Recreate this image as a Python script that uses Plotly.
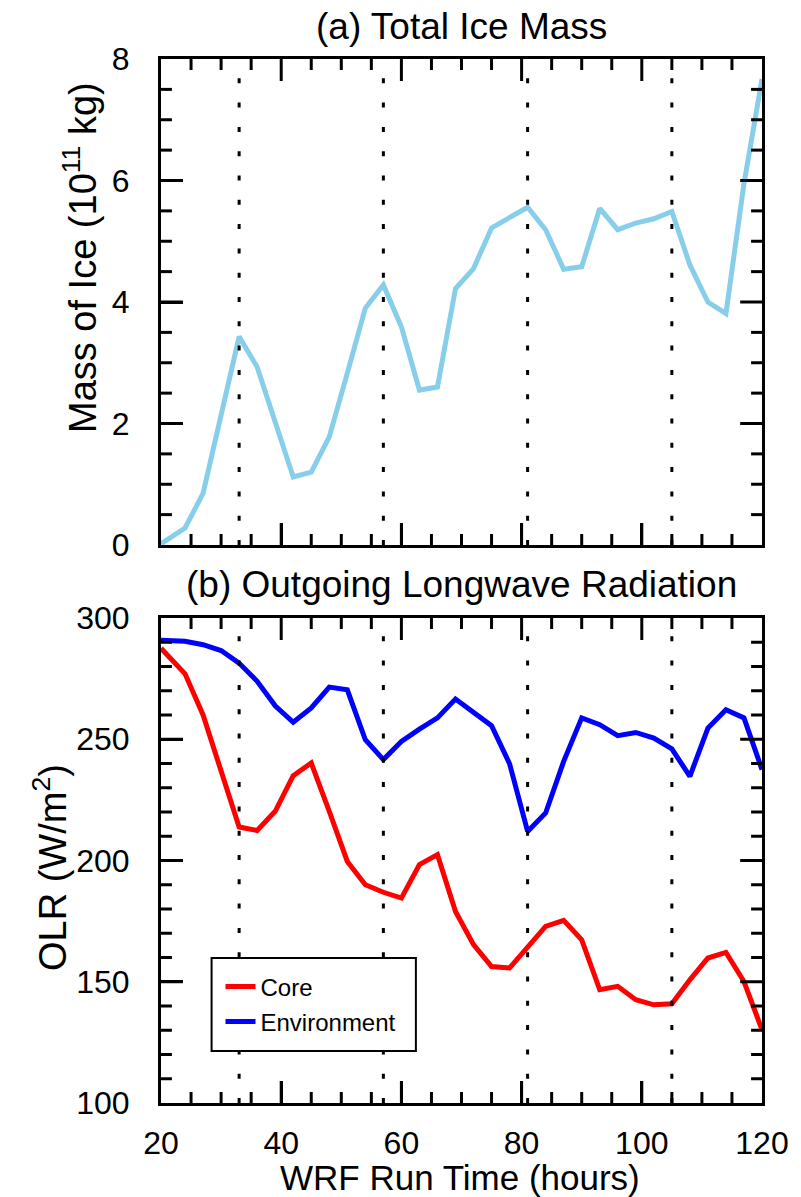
import plotly.graph_objects as go

# Model output times (hours since WRF start)
hours = [20, 24, 27, 30, 33, 36, 39, 42, 45, 48, 51, 54, 57, 60, 63, 66, 69,
         72, 75, 78, 81, 84, 87, 90, 93, 96, 99, 102, 105, 108, 111, 114, 117, 120]

# (a) total ice mass, 10^11 kg
ice_mass = [0.02, 0.28, 0.85, 2.1, 3.43, 2.93, 2.0, 1.12, 1.2, 1.78, 2.83, 3.9, 4.28,
            3.59, 2.55, 2.6, 4.22, 4.55, 5.22, 5.38, 5.56, 5.19, 4.54, 4.58, 5.54,
            5.19, 5.3, 5.37, 5.49, 4.61, 4.0, 3.81, 5.95, 7.67]

# (b) outgoing longwave radiation, W/m^2
olr_core = [287.5, 277, 260, 237, 213.8, 212.4, 220.3, 235, 240.2, 220.3, 199.6, 190,
            186.9, 184.5, 198.3, 202.4, 179, 165.3, 156.3, 155.7, 164.6, 172.8, 175.3,
            167.3, 146.7, 148.1, 142.6, 140.5, 140.9, 150.8, 159.8, 162.1, 150.1, 130.2]
olr_env = [290.8, 290.4, 289, 286.6, 281.4, 273.9, 263.8, 257, 262.9, 271.5, 270.4,
           249.8, 241.6, 249.1, 254.2, 258.8, 266.6, 260.8, 255.6, 239.9, 212, 219.6,
           240.9, 258.8, 256, 251.5, 252.8, 250.5, 246, 234.7, 254.6, 262.2, 258.8, 237.5]

# reference times marked with dotted lines
marker_hours = [33, 57, 81, 105]

# axis ranges
X_RANGE = (20, 120)
ICE_RANGE = (0, 8)
OLR_RANGE = (100, 300)

# tick positions (major, minor) for each axis
x_major = [40, 60, 80, 100]
x_minor = [v for v in range(25, 120, 5) if v % 20 != 0]
ice_major = [2, 4, 6]
ice_minor = [v / 2 for v in range(1, 16) if v % 4 != 0]
olr_major = [150, 200, 250]
olr_minor = [v for v in range(110, 300, 10) if v % 50 != 0]

FONT = "Liberation Sans, Arial, sans-serif"
W, H = 801, 1197
ML, MR, MT, MB = 161, 34, 59, 94
plot_h = H - MT - MB
plot_w = W - ML - MR
CLEAR = "rgba(0,0,0,0)"
MAJOR_LEN, MINOR_LEN = 22, 11
TOP_PANEL_PX = 545 - 59
BOTTOM_PANEL_PX = 1103 - 618


def py(px):
    """Convert a pixel row to paper y."""
    return (H - MB - px) / plot_h


def px_x(px):
    return (px - ML) / plot_w


fig = go.Figure()

fig.add_trace(go.Scatter(x=hours, y=ice_mass, mode="lines",
                         line=dict(color="#87CEEB", width=5),
                         xaxis="x", yaxis="y", showlegend=False))
fig.add_trace(go.Scatter(x=hours, y=olr_core, mode="lines", name="Core",
                         line=dict(color="#FF0000", width=5),
                         xaxis="x2", yaxis="y2", legend="legend"))
fig.add_trace(go.Scatter(x=hours, y=olr_env, mode="lines", name="Environment",
                         line=dict(color="#0000FF", width=5),
                         xaxis="x2", yaxis="y2", legend="legend2"))

shapes = []
TICK_LINE = dict(color="black", width=3)


def frame_ticks(xref, yref, yr, panel_px, y_major, y_minor):
    """Inward tick marks on all four frame edges of one panel, in data units."""
    x_per_px = (X_RANGE[1] - X_RANGE[0]) / plot_w
    y_per_px = (yr[1] - yr[0]) / panel_px
    for vals, ln in ((x_major, MAJOR_LEN), (x_minor, MINOR_LEN)):
        d = ln * y_per_px
        for v in vals:
            shapes.append(dict(type="line", xref=xref, yref=yref, x0=v, x1=v,
                               y0=yr[0], y1=yr[0] + d, line=TICK_LINE, layer="above"))
            shapes.append(dict(type="line", xref=xref, yref=yref, x0=v, x1=v,
                               y0=yr[1], y1=yr[1] - d, line=TICK_LINE, layer="above"))
    for vals, ln in ((y_major, MAJOR_LEN), (y_minor, MINOR_LEN)):
        d = ln * x_per_px
        for v in vals:
            shapes.append(dict(type="line", xref=xref, yref=yref, y0=v, y1=v,
                               x0=X_RANGE[0], x1=X_RANGE[0] + d, line=TICK_LINE,
                               layer="above"))
            shapes.append(dict(type="line", xref=xref, yref=yref, y0=v, y1=v,
                               x0=X_RANGE[1], x1=X_RANGE[1] - d, line=TICK_LINE,
                               layer="above"))


frame_ticks("x", "y", ICE_RANGE, TOP_PANEL_PX, ice_major, ice_minor)
frame_ticks("x2", "y2", OLR_RANGE, BOTTOM_PANEL_PX, olr_major, olr_minor)

for h in marker_hours:
    shapes.append(dict(type="line", xref="x", yref="y", x0=h, x1=h,
                       y0=ICE_RANGE[0], y1=ICE_RANGE[1],
                       line=dict(color="black", width=3, dash="5px,19.3px"),
                       layer="above"))
    shapes.append(dict(type="line", xref="x2", yref="y2", x0=h, x1=h,
                       y0=OLR_RANGE[0], y1=OLR_RANGE[1],
                       line=dict(color="black", width=3, dash="5px,19.3px"),
                       layer="above"))

# legend frame
shapes.append(dict(type="rect", xref="paper", yref="paper",
                   x0=px_x(212), x1=px_x(418), y0=py(1051), y1=py(958),
                   fillcolor="white", line=dict(color="black", width=2),
                   layer="above"))

LABEL_FONT = dict(family=FONT, size=32, color="black")


def axis(**kw):
    d = dict(showline=True, linewidth=3, linecolor="black", mirror=True,
             ticks="inside", ticklen=MAJOR_LEN, tickwidth=3, tickcolor="black",
             showgrid=False, zeroline=False, tickfont=LABEL_FONT)
    d.update(kw)
    return d


fig.update_layout(
    width=W, height=H,
    margin=dict(l=ML, r=MR, t=MT, b=MB),
    paper_bgcolor="white", plot_bgcolor="white",
    xaxis=axis(domain=[0, 1], anchor="y", range=list(X_RANGE), dtick=20,
               showticklabels=False),
    yaxis=axis(domain=[py(545), 1], anchor="x", range=list(ICE_RANGE), dtick=2,
               ticklabelstandoff=22),
    xaxis2=axis(domain=[0, 1], anchor="y2", range=list(X_RANGE), dtick=20,
                ticklabelstandoff=10),
    yaxis2=axis(domain=[0, py(618)], anchor="x2", range=list(OLR_RANGE), dtick=50,
                ticklabelstandoff=22),
    shapes=shapes,
    legend=dict(x=px_x(221), y=py(987), xanchor="left", yanchor="middle",
                bgcolor=CLEAR, borderwidth=0,
                font=dict(family=FONT, size=24, color="black")),
    legend2=dict(x=px_x(221), y=py(1022), xanchor="left", yanchor="middle",
                 bgcolor=CLEAR, borderwidth=0,
                 font=dict(family=FONT, size=24, color="black")),
    annotations=[
        dict(text="(a) Total Ice Mass", xref="paper", yref="paper", x=0.5, y=py(27),
             xanchor="center", yanchor="middle", showarrow=False,
             font=dict(family=FONT, size=37, color="black")),
        dict(text="(b) Outgoing Longwave Radiation", xref="paper", yref="paper",
             x=0.5, y=py(584), xanchor="center", yanchor="middle", showarrow=False,
             font=dict(family=FONT, size=37, color="black")),
        dict(text="Mass of Ice (10<sup>11</sup> kg)", xref="paper", yref="paper",
             x=0, y=py(258), xshift=-81, textangle=-90, xanchor="center",
             yanchor="middle", showarrow=False,
             font=dict(family=FONT, size=38, color="black")),
        dict(text="OLR (W/m<sup>2</sup>)", xref="paper", yref="paper",
             x=0, y=py(868), xshift=-111, textangle=-90, xanchor="center",
             yanchor="middle", showarrow=False,
             font=dict(family=FONT, size=38, color="black")),
        dict(text="WRF Run Time (hours)", xref="paper", yref="paper",
             x=px_x(462), y=py(1177), xanchor="center", yanchor="middle",
             showarrow=False, font=dict(family=FONT, size=35, color="black")),
    ],
)

fig.write_html("out.html")
